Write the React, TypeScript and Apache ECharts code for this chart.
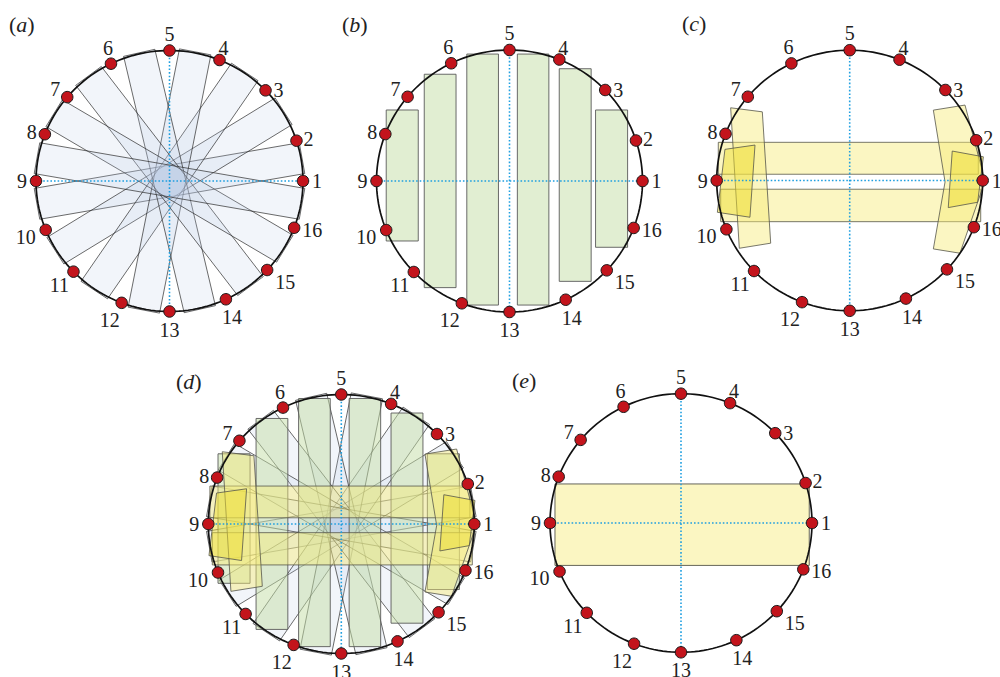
import React, { useEffect, useRef } from "react";
import * as echarts from "echarts";

// Angular positions (degrees, counter-clockwise from the right) of the 16 nodes
const nodeAngles = [0, 18, 44, 68, 90, 116, 140, 159, 180, 202, 224, 249, 270, 295, 317, 339];
const nodeNames = ["1", "2", "3", "4", "5", "6", "7", "8", "9", "10", "11", "12", "13", "14", "15", "16"];

// Axis directions (degrees) of the eight diagonal strips of (a) and (d)
const stripAngles = [10, 32, 56, 79, 103, 127, 149, 170];
const stripHalfWidth = 0.12;
const stripHalfLength = 1.008;

// Vertical strips of (b) and (d): [x0, x1, yBottom, yTop] in unit-circle coordinates
const verticalStrips = [
  [-0.927, -0.686, -0.458, 0.542],
  [-0.641, -0.402, -0.814, 0.815],
  [-0.321, -0.083, -0.947, 0.969],
  [0.059, 0.296, -0.947, 0.969],
  [0.374, 0.614, -0.766, 0.857],
  [0.647, 0.888, -0.506, 0.542],
];

// Horizontal strips of (c) and (d): [x0, x1, yBottom, yTop]
const horizontalStrips = [
  [-0.988, 0.967, 0.048, 0.293],
  [-0.97, 0.985, -0.316, -0.067],
];

// Tall tilted pieces at both ends of (c) and (d): vertex lists
const sideBands = [
  [[-0.895, 0.558], [-0.657, 0.527], [-0.594, -0.481], [-0.83, -0.52]],
  [[0.629, 0.54], [0.867, 0.579], [1.017, -0.004], [0.829, -0.558], [0.629, -0.525], [0.717, -0.011]],
];

// Short tilted blocks at both ends of (c) and (d): vertex lists
const sideBlocks = [
  [[-0.938, 0.239], [-0.712, 0.272], [-0.75, -0.282], [-0.995, -0.244]],
  [[0.771, 0.226], [1.005, 0.182], [0.962, -0.167], [0.741, -0.208]],
];

// The single band of (e): [x0, x1, yBottom, yTop]
const wideBand = [[-0.962, 0.979, -0.328, 0.302]];

// ---- layout & styling ----
const PANELS = [
  { key: "a", left: 36, top: 50.5, width: 267, height: 261, tag: [9, 24], layers: ["strips"] },
  { key: "b", left: 376.5, top: 50, width: 266, height: 262, tag: [342, 24], layers: ["vertical"] },
  { key: "c", left: 716.7, top: 50.2, width: 266, height: 260.6, tag: [682, 23], layers: ["horizontal", "bands", "blocks"] },
  { key: "d", left: 208.3, top: 394.5, width: 266, height: 259, tag: [176, 381], layers: ["strips", "vertical", "horizontal", "bands", "blocks"] },
  { key: "e", left: 550, top: 393.7, width: 262, height: 258.6, tag: [512, 380], layers: ["wide"] },
];

const nodeLabelOffsets = [
  [14, 0], [12, -2], [13, 0], [4, -12], [0, -17], [-3, -16], [-12, -8], [-13, -2],
  [-14, 0], [-20, 7], [-14, 13], [-12, 17], [0, 18], [6, 18], [18, 12], [18, 2],
];

const SERIF = "Liberation Serif";

const STYLES: Record<string, any> = {
  strips: { fill: "rgba(185,200,230,0.19)", stroke: "#2b2b2b", lineWidth: 0.7 },
  vertical: { fill: "rgba(196,222,165,0.5)", stroke: "#5a5a5a", lineWidth: 0.9 },
  horizontal: { fill: "rgba(246,236,120,0.45)", stroke: "#55554a", lineWidth: 0.8 },
  bands: { fill: "rgba(246,236,120,0.45)", stroke: "#55554a", lineWidth: 0.8 },
  blocks: { fill: "rgba(238,222,50,0.5)", stroke: "#55554a", lineWidth: 0.8 },
  wide: { fill: "rgba(246,236,120,0.45)", stroke: "#55554a", lineWidth: 0.9 },
};

const rad = (d: number) => (d * Math.PI) / 180;

const rectPoly = (r: number[]) => [
  [r[0], r[2]],
  [r[1], r[2]],
  [r[1], r[3]],
  [r[0], r[3]],
];

const stripPoly = (deg: number) => {
  const c = Math.cos(rad(deg));
  const s = Math.sin(rad(deg));
  const L = stripHalfLength;
  const W = stripHalfWidth;
  return [
    [L * c - W * s, L * s + W * c],
    [L * c + W * s, L * s - W * c],
    [-L * c + W * s, -L * s - W * c],
    [-L * c - W * s, -L * s + W * c],
  ];
};

const layerPolys: Record<string, number[][][]> = {
  strips: stripAngles.map(stripPoly),
  vertical: verticalStrips.map(rectPoly),
  horizontal: horizontalStrips.map(rectPoly),
  bands: sideBands,
  blocks: sideBlocks,
  wide: wideBand.map(rectPoly),
};

function polygonSeries(g: number, polys: number[][][], style: any, z: number) {
  return {
    type: "custom",
    xAxisIndex: g,
    yAxisIndex: g,
    silent: true,
    z,
    data: polys.map((p) => p[0]),
    renderItem: (params: any, api: any) => {
      const pts = polys[params.dataIndex].map((p) => api.coord(p));
      return { type: "polygon", shape: { points: pts }, style: { ...style } };
    },
  };
}

function circleSeries(g: number) {
  const ring: number[][] = [];
  for (let t = 0; t < 360; t += 2) ring.push([Math.cos(rad(t)), Math.sin(rad(t))]);
  return {
    type: "custom",
    xAxisIndex: g,
    yAxisIndex: g,
    silent: true,
    z: 8,
    data: [[0, 0]],
    renderItem: (_p: any, api: any) => ({
      type: "polygon",
      shape: { points: ring.map((p) => api.coord(p)) },
      style: { fill: "none", stroke: "#111", lineWidth: 1.7 },
    }),
  };
}

function crossSeries(g: number) {
  // dotted diameters: node 9 to node 1, node 5 to node 13
  const segs = [
    [nodeAngles[8], nodeAngles[0]],
    [nodeAngles[4], nodeAngles[12]],
  ];
  return {
    type: "custom",
    xAxisIndex: g,
    yAxisIndex: g,
    silent: true,
    z: 7,
    data: segs.map(() => [0, 0]),
    renderItem: (params: any, api: any) => {
      const [a0, a1] = segs[params.dataIndex];
      const p0 = api.coord([Math.cos(rad(a0)), Math.sin(rad(a0))]);
      const p1 = api.coord([Math.cos(rad(a1)), Math.sin(rad(a1))]);
      return {
        type: "line",
        shape: { x1: p0[0], y1: p0[1], x2: p1[0], y2: p1[1] },
        style: { stroke: "#1f9fe0", lineWidth: 1.6, lineDash: [1.6, 2] },
      };
    },
  };
}

function nodeSeries(g: number) {
  return {
    type: "scatter",
    xAxisIndex: g,
    yAxisIndex: g,
    silent: true,
    z: 10,
    symbolSize: 11.5,
    itemStyle: { color: "#c3141c", borderColor: "#1a1a1a", borderWidth: 1, opacity: 1 },
    label: { fontFamily: SERIF, fontSize: 20, color: "#222" },
    data: nodeAngles.map((a, i) => ({
      value: [Math.cos(rad(a)), Math.sin(rad(a))],
      label: { show: true, position: "inside", formatter: nodeNames[i], offset: nodeLabelOffsets[i] },
    })),
  };
}

function buildOption() {
  const series: any[] = [];
  PANELS.forEach((p, g) => {
    p.layers.forEach((layer, li) => {
      series.push(polygonSeries(g, layerPolys[layer], STYLES[layer], 2 + li * 0.1));
    });
    series.push(crossSeries(g));
    series.push(circleSeries(g));
    series.push(nodeSeries(g));
  });

  return {
    animation: false,
    backgroundColor: "#ffffff",
    grid: PANELS.map((p) => ({ left: p.left, top: p.top, width: p.width, height: p.height })),
    xAxis: PANELS.map((_, i) => ({ type: "value", gridIndex: i, min: -1, max: 1, show: false })),
    yAxis: PANELS.map((_, i) => ({ type: "value", gridIndex: i, min: -1, max: 1, show: false })),
    graphic: PANELS.map((p) => ({
      type: "text",
      x: p.tag[0],
      y: p.tag[1],
      silent: true,
      style: {
        text: `{p|(}{i|${p.key}}{p|)}`,
        verticalAlign: "middle",
        rich: {
          p: { fontFamily: SERIF, fontSize: 22, fill: "#222" },
          i: { fontFamily: SERIF, fontSize: 22, fontStyle: "italic", fill: "#222" },
        },
      },
    })),
    series,
  };
}

export default function App() {
  const ref = useRef<HTMLDivElement>(null);
  useEffect(() => {
    const chart = echarts.init(ref.current!, null, { renderer: "svg" });
    chart.setOption(buildOption() as any);
    return () => chart.dispose();
  }, []);
  return (
    <div
      ref={ref}
      style={{ position: "fixed", left: 0, top: 0, width: 1000, height: 677, background: "#fff" }}
    />
  );
}
